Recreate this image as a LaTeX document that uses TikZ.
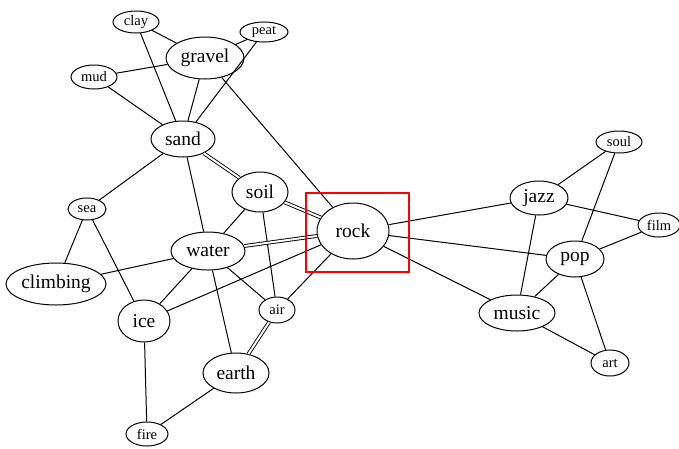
\documentclass[tikz,border=0pt]{standalone}
\usepackage{fontspec}
\setmainfont{Liberation Serif}
\usetikzlibrary{shapes.geometric}
\begin{document}
\begin{tikzpicture}[x=1pt,y=-1pt,
  nd/.style={ellipse,draw,line width=1pt,inner sep=0pt,fill=white},
  big/.style={nd,font=\fontsize{19.5}{20}\selectfont},
  small/.style={nd,font=\fontsize{14.5}{15}\selectfont},
  ed/.style={line width=1pt},
  dbl/.style={double,double distance=2pt,line width=0.9pt},
  hl/.style={draw=red,line width=1.6pt}]
\useasboundingbox (0,0) rectangle (679,448);
% nodes
\node[small,minimum width=46pt,minimum height=22pt] (clay) at (136,22) {clay};
\node[big,minimum width=78pt,minimum height=42pt] (gravel) at (205,58) {gravel};
\node[small,minimum width=48pt,minimum height=20pt] (peat) at (264,32) {peat};
\node[small,minimum width=46pt,minimum height=24pt] (mud) at (94,77) {mud};
\node[big,minimum width=64pt,minimum height=36pt] (sand) at (183,139) {sand};
\node[big,minimum width=56pt,minimum height=40pt] (soil) at (260,192) {soil};
\node[small,minimum width=38pt,minimum height=22pt] (sea) at (87,209) {sea};
\node[big,minimum width=74pt,minimum height=38pt] (water) at (208,251) {water};
\node[big,minimum width=100pt,minimum height=42pt] (climbing) at (56,284) {climbing};
\node[big,minimum width=52pt,minimum height=42pt] (ice) at (144,321) {ice};
\node[small,minimum width=36pt,minimum height=26pt] (air) at (277,310) {air};
\node[big,minimum width=66pt,minimum height=40pt] (earth) at (236,373) {earth};
\node[small,minimum width=42pt,minimum height=24pt] (fire) at (147,434) {fire};
\node[big,minimum width=72pt,minimum height=56pt] (rock) at (353,231) {rock};
\node[big,minimum width=58pt,minimum height=34pt] (jazz) at (539,198) {jazz};
\node[small,minimum width=46pt,minimum height=22pt] (soul) at (619,142) {soul};
\node[small,minimum width=42pt,minimum height=24pt] (film) at (659,225) {film};
\node[big,minimum width=58pt,minimum height=36pt] (pop) at (575,259) {pop};
\node[big,minimum width=76pt,minimum height=36pt] (music) at (517,313) {music};
\node[small,minimum width=38pt,minimum height=26pt] (art) at (610,363) {art};
% edges
\draw[ed] (clay) -- (gravel);
\draw[ed] (clay) -- (sand);
\draw[ed] (peat) -- (gravel);
\draw[ed] (peat) -- (sand);
\draw[ed] (mud) -- (gravel);
\draw[ed] (mud) -- (sand);
\draw[ed] (gravel) -- (sand);
\draw[ed] (gravel) -- (rock);
\draw[dbl] (sand) -- (soil);
\draw[ed] (sand) -- (sea);
\draw[ed] (sand) -- (water);
\draw[dbl] (soil) -- (rock);
\draw[ed] (soil) -- (water);
\draw[ed] (soil) -- (air);
\draw[dbl] (water) -- (rock);
\draw[ed] (water) -- (climbing);
\draw[ed] (water) -- (ice);
\draw[ed] (water) -- (air);
\draw[ed] (water) -- (earth);
\draw[ed] (sea) -- (climbing);
\draw[ed] (sea) -- (ice);
\draw[ed] (ice) -- (rock);
\draw[ed] (ice) -- (fire);
\draw[ed] (earth) -- (fire);
\draw[dbl] (earth) -- (air);
\draw[ed] (air) -- (rock);
\draw[ed] (rock) -- (jazz);
\draw[ed] (rock) -- (pop);
\draw[ed] (rock) -- (music);
\draw[ed] (jazz) -- (soul);
\draw[ed] (jazz) -- (film);
\draw[ed] (jazz) -- (music);
\draw[ed] (pop) -- (soul);
\draw[ed] (pop) -- (film);
\draw[ed] (pop) -- (music);
\draw[ed] (pop) -- (art);
\draw[ed] (music) -- (art);
% highlight
\draw[hl] (306,193) rectangle (409,272);
\end{tikzpicture}
\end{document}
